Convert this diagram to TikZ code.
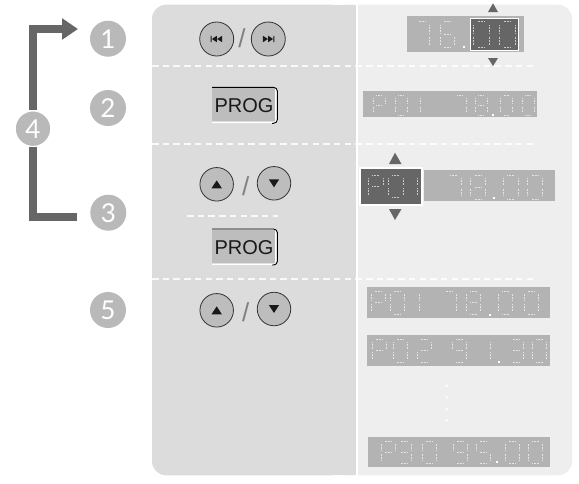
\documentclass[tikz,border=0pt]{standalone}
\usepackage{fontspec}
\setmainfont{Liberation Sans}
\newfontfamily\numfont{Lato}
\usetikzlibrary{arrows.meta}
\definecolor{leftpanel}{HTML}{DCDCDC}
\definecolor{rightpanel}{HTML}{EEEEEE}
\definecolor{badge}{HTML}{B9B9B9}
\definecolor{darkgr}{HTML}{666666}
\definecolor{lcdgr}{HTML}{B3B3B3}
\definecolor{btn}{HTML}{BDBDBD}
\definecolor{rim}{HTML}{333333}
\tikzset{
  badgenode/.style={circle,fill=badge,minimum size=36pt,inner sep=0pt,text=white,font=\numfont\fontsize{26}{26}\selectfont},
  bracket/.style={draw=darkgr,line width=8pt},
  sepline/.style={draw=white,line width=1.5pt,dash pattern=on 6.5pt off 4.2pt,opacity=.85},
  roundbtn/.style={circle,draw=rim,fill=btn,line width=.8pt,inner sep=0pt},
  slashtxt/.style={text=gray,font=\fontsize{26}{26}\selectfont,inner sep=0pt},
  lcdbox/.style={fill=lcdgr},
  lcdseg/.style={draw=white,line width=1pt,dash pattern=on .8pt off .7pt,opacity=.65},
  tri/.style={fill=darkgr},
  progtxt/.style={inner sep=0pt,font=\fontsize{20}{20}\selectfont,text=black!90}
}
\newcommand\segma{\draw[lcdseg] (.28,0)--(.72,0);}
\newcommand\segmb{\draw[lcdseg] (1,.13)--(1,.43);}
\newcommand\segmc{\draw[lcdseg] (1,.57)--(1,.87);}
\newcommand\segmd{\draw[lcdseg] (.28,1)--(.72,1);}
\newcommand\segme{\draw[lcdseg] (0,.57)--(0,.87);}
\newcommand\segmf{\draw[lcdseg] (0,.13)--(0,.43);}
\newcommand\segmg{\draw[lcdseg] (.28,.5)--(.72,.5);}
\def\dsegP{a,b,f,g,e}
\def\dsegZ{a,b,c,d,e,f}
\def\dsegO{b,c}
\def\dsegT{a,b,g,e,d}
\def\dsegH{a,b,g,c,d}
\def\dsegV{a,f,g,c,d}
\def\dsegS{a,f,g,e,c,d}
\def\dsegL{a,b,c}
\def\dsegE{a,b,c,d,e,f,g}
\def\dsegN{a,b,c,d,f,g}
\newcommand\lcdrow[4]{%
  \foreach \xx/\cc in {#4}{%
    \begin{scope}[shift={(\xx,#1)},x=#3pt,y=-#2pt]
      \expandafter\let\expandafter\curlist\csname dseg\cc\endcsname
      \foreach \ss in \curlist {\csname segm\ss\endcsname}
    \end{scope}}}
\newcommand\lcddot[2]{\fill[white] (#1-1,#2-1) rectangle (#1+1,#2+1);}
\newcommand\bprev{\fill[black!90] (-6,-3.2) rectangle (-5,3.2) (-4.8,0)--(.1,-3.2)--(.1,3.2)--cycle (.4,0)--(5.4,-3.2)--(5.4,3.2)--cycle;}
\newcommand\bnext{\fill[black!90] (6,-3.2) rectangle (5,3.2) (4.8,0)--(-.1,-3.2)--(-.1,3.2)--cycle (-.4,0)--(-5.4,-3.2)--(-5.4,3.2)--cycle;}
\newcommand\bup{\fill[black!90] (-5.2,4)--(5.2,4)--(0,-4)--cycle;}
\newcommand\bdown{\fill[black!90] (-5.2,-4)--(5.2,-4)--(0,4)--cycle;}
\begin{document}
\begin{tikzpicture}[x=1pt,y=-1pt]
\useasboundingbox (0,0) rectangle (579,483);
\fill[white] (0,0) rectangle (579,483);
% panels
\fill[rightpanel,rounded corners=14pt] (330,4.7) rectangle (572,475.3);
\fill[leftpanel,rounded corners=14pt] (152,4.7) rectangle (345,475.3);
\fill[leftpanel] (320,4.7) rectangle (356,475.3);
\fill[white] (355.5,0) rectangle (358,483);
% separators
\coordinate (s1a) at (152,66);\coordinate (s1b) at (535,66);
\coordinate (s2a) at (152,144);\coordinate (s2b) at (535,144);
\coordinate (s3a) at (187,216);\coordinate (s3b) at (278,216);
\coordinate (s4a) at (152,279);\coordinate (s4b) at (535,279);
\draw[sepline] (s1a)--(s1b);
\draw[sepline] (s2a)--(s2b);
\draw[sepline] (s3a)--(s3b);
\draw[sepline] (s4a)--(s4b);
% badges
\node[badgenode] (n1) at (108,38.7) {1};
\node[badgenode] (n2) at (108,108) {2};
\node[badgenode] (n3) at (108.3,212.7) {3};
\node[badgenode] (n5) at (108,310) {5};
\node[badgenode,draw=white,line width=1.5pt] (n4) at (33,128.7) {4};
\coordinate (tip1) at (78,29);
\coordinate (end3) at (76.7,216.7);
\draw[bracket,-{Triangle[length=16pt,width=20.5pt]}] (n4.north) |- (tip1);
\draw[bracket] (n4.south) |- (end3);
% row 1 buttons
\node[roundbtn,minimum size=34pt] (prev) at (216.7,39) {};
\node[roundbtn,minimum size=34pt] (next) at (268.3,39) {};
\begin{scope}[shift={(prev.center)}]\bprev\end{scope}
\begin{scope}[shift={(next.center)}]\bnext\end{scope}
\node[slashtxt] (sl1) at (242,38.5) {/};
% row 3 buttons
\node[roundbtn,minimum size=33.5pt] (up3) at (216.7,184.3) {};
\node[roundbtn,minimum size=33.5pt] (dn3) at (274,183.3) {};
\begin{scope}[shift={(up3.center)}]\bup\end{scope}
\begin{scope}[shift={(dn3.center)}]\bdown\end{scope}
\node[slashtxt] (sl3) at (245.7,186.5) {/};
% row 5 buttons
\node[roundbtn,minimum size=33.5pt] (up5) at (216.7,310.3) {};
\node[roundbtn,minimum size=33.5pt] (dn5) at (274,309) {};
\begin{scope}[shift={(up5.center)}]\bup\end{scope}
\begin{scope}[shift={(dn5.center)}]\bdown\end{scope}
\node[slashtxt] (sl5) at (245.7,312.5) {/};
% PROG boxes
\foreach \yy in {87.3,229}{
  \begin{scope}[shift={(0,\yy)}]
    \fill[btn] (212,1) rectangle (274.5,34);
    \draw[white,line width=1pt,rounded corners=2pt] (212,35.3) -- (275.5,35.3) -- (275.5,1);
    \draw[black,line width=.9pt,rounded corners=4pt] (212,0) -- (277.5,0) -- (277.5,36) -- (272,36);
  \end{scope}}
\node[progtxt] (prog1) at (244,106) {PROG};
\node[progtxt] (prog2) at (244,247.7) {PROG};
% display 1
\fill[lcdbox] (407,16) rectangle (524,52);
\fill[darkgr] (470,18.5) rectangle (518,50);
\draw[white,line width=1pt] (470,18.5) rectangle (518,50);
\lcdrow{21.7}{26}{14}{415/L,440/S}
\lcdrow{21.7}{26}{16}{473.5/Z,499.5/Z}
\lcddot{464}{46.7}
\fill[tri] (488,12)--(498,12)--(493,3.3)--cycle;
\fill[tri] (488,58)--(498,58)--(493,66)--cycle;
% display 2
\fill[lcdbox] (363,91) rectangle (537,117);
\lcdrow{95.5}{19.5}{12}{373/P,395/Z,408/O,454/L,475/E,500.5/Z,522/Z}
\lcddot{493}{114.5}
% display 3
\fill[lcdbox] (423.5,170) rectangle (555,201);
\fill[darkgr] (360,168) rectangle (422,205);
\draw[white,line width=1.6pt] (360,168) rectangle (422,205);
\lcdrow{175.5}{22}{15}{368/P,388/Z,402/O}
\lcdrow{175}{24}{15}{446/L,470.5/E,503/Z,527.5/Z}
\lcddot{494}{197.7}
\fill[tri] (389,164)--(401.5,164)--(395,152.7)--cycle;
\fill[tri] (389,209)--(401.5,209)--(395,220)--cycle;
% display 4
\fill[lcdbox] (367,287) rectangle (550,318);
\lcdrow{291}{23}{14}{371/P,390/Z,405/O,442/L,466.5/E,498.5/Z,524/Z}
\lcddot{490}{314.7}
% display 5
\fill[lcdbox] (367,335) rectangle (550,366);
\lcdrow{339.5}{22.5}{14}{372/P,393/Z,417/T,452.5/N,476/O,509/H,532.5/Z}
\lcddot{499}{361.7}
% dots
\foreach \dy in {385.7,397.3,409,420.5}{\fill[white] (446.7,\dy) circle[radius=1.3];}
% display 6
\fill[lcdbox] (368,437) rectangle (550,467);
\lcdrow{441}{22}{14}{381/P,397/H,422/Z,453/N,476/V,505/Z,528.5/Z}
\lcddot{497}{461.7}
\end{tikzpicture}
\end{document}
